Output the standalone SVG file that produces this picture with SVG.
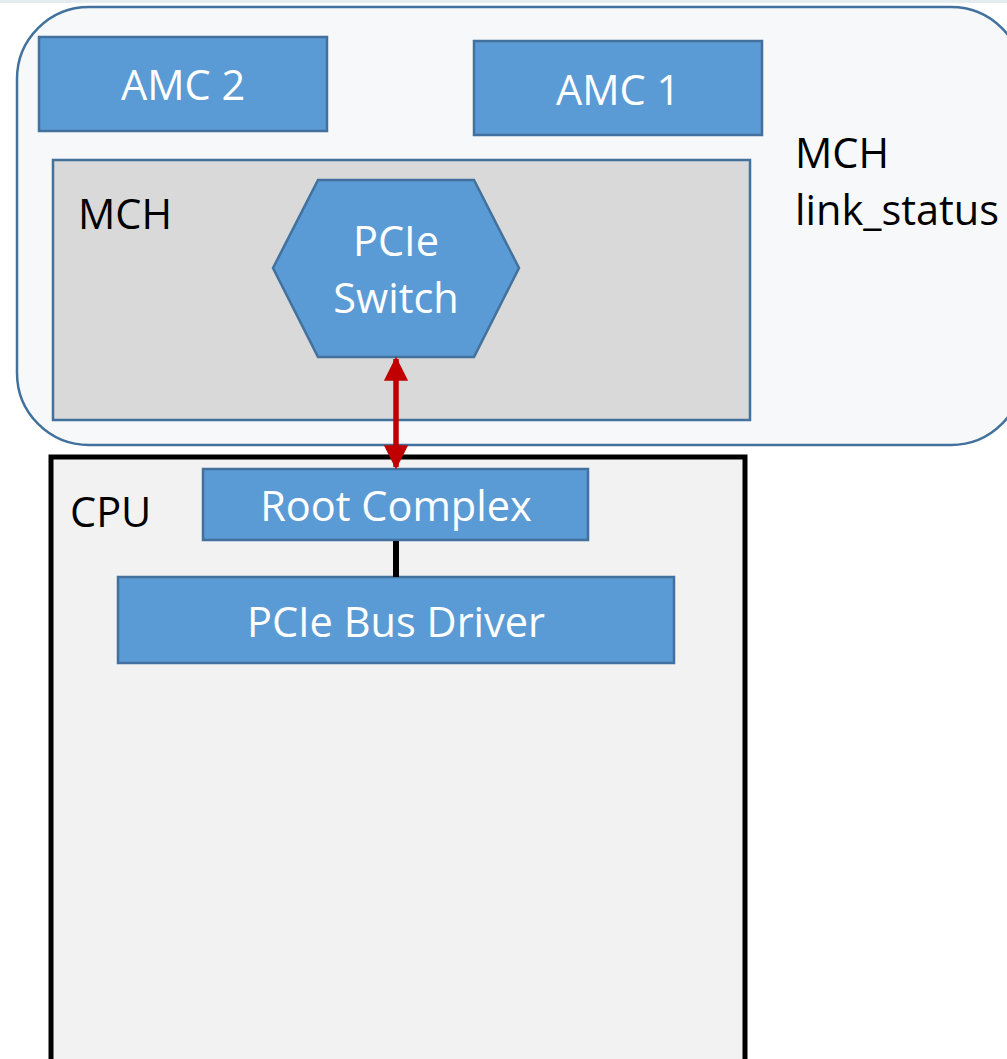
<svg xmlns="http://www.w3.org/2000/svg" width="1007" height="1059" viewBox="0 0 1007 1059">
<defs>
<style>
.blue{fill:#5b9bd5;stroke:#41719c;stroke-width:2.5}
.wt{font-family:"Open Sans","Liberation Sans",sans-serif;font-size:41.5px;fill:#ffffff;text-anchor:middle}
.bt{font-family:"Open Sans","Liberation Sans",sans-serif;font-size:41.5px;fill:#000000}
</style>
<marker id="ah" viewBox="0 0 10 10" refX="9" refY="5" markerWidth="4.4" markerHeight="4.4" markerUnits="strokeWidth" orient="auto-start-reverse">
<path d="M0,0 L10,5 L0,10 z" fill="#c00000"/>
</marker>
</defs>
<rect x="0" y="0" width="1007" height="1059" fill="#ffffff"/>
<rect x="0" y="0" width="1007" height="3" fill="#e4ecef"/>
<g id="mch-chassis">
<rect x="17" y="7" width="1006" height="438" rx="72" ry="72" fill="#f7f8fa" stroke="#41719c" stroke-width="2.5"/>
<text class="bt" x="795" y="168">MCH</text>
<text class="bt" x="795" y="225">link_status</text>
</g>
<g id="amc2">
<rect class="blue" x="39" y="37" width="288" height="94"/>
<text class="wt" x="183" y="100">AMC 2</text>
</g>
<g id="amc1">
<rect class="blue" x="474" y="41" width="288" height="94"/>
<text class="wt" x="618" y="105">AMC 1</text>
</g>
<g id="mch">
<rect x="53" y="160" width="697" height="260" fill="#d9d9d9" stroke="#41719c" stroke-width="2.5"/>
<text class="bt" x="78" y="229">MCH</text>
</g>
<g id="pcie-switch">
<polygon class="blue" points="273,268 318,180 474,180 519,268 474,357 318,357"/>
<text class="wt" x="396" y="256">PCIe</text>
<text class="wt" x="396" y="313">Switch</text>
</g>
<g id="cpu">
<rect x="51" y="457" width="694" height="620" fill="#f2f2f2" stroke="#000000" stroke-width="5"/>
<text class="bt" x="70" y="527">CPU</text>
</g>
<g id="root-complex">
<rect class="blue" x="203" y="469" width="385" height="71"/>
<text class="wt" x="396" y="521">Root Complex</text>
</g>
<g id="pcie-bus-driver">
<rect class="blue" x="118" y="577" width="556" height="86"/>
<text class="wt" x="396" y="637">PCIe Bus Driver</text>
</g>
<g id="connectors">
<line x1="396" y1="541" x2="396" y2="577" stroke="#000000" stroke-width="6"/>
<line x1="396" y1="359" x2="396" y2="467" stroke="#c00000" stroke-width="5.5" marker-start="url(#ah)" marker-end="url(#ah)"/>
</g>
</svg>
